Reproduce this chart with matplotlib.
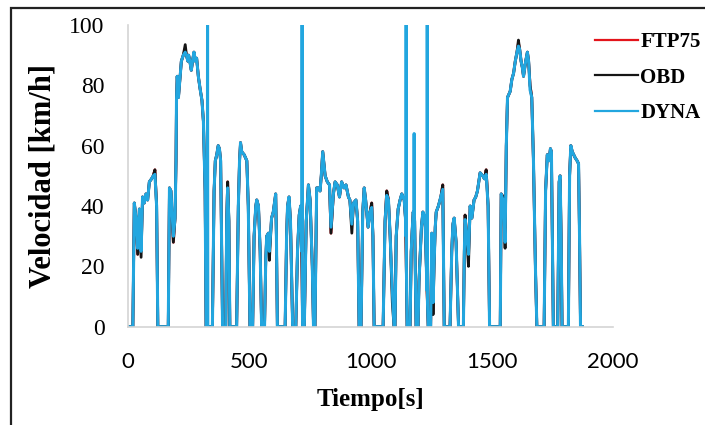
import matplotlib
matplotlib.use("Agg")
import numpy as np
import matplotlib.pyplot as plt
from matplotlib.lines import Line2D
from matplotlib.patches import Rectangle
from matplotlib.font_manager import FontProperties

# FTP75 speed trace, one line per hump (time s / speed km/h)
t_ftp = [0, 20, 26, 33, 40, 47, 54, 60, 67, 74, 81, 88, 97, 104, 111, 118, 123,
         166, 171, 177, 187, 194, 198, 200, 203, 208, 213, 220, 228, 236, 241, 247, 250, 255, 261, 268, 272, 278, 283, 290, 297, 305, 311, 318, 322,
         348, 355, 360, 366, 372, 377, 382, 390,
         403, 407, 411, 416, 420,
         448, 455, 460, 464, 469, 479, 490, 496, 503,
         514, 520, 527, 531, 538, 545, 551,
         563, 568, 572, 579, 583, 592, 599, 609, 612, 616,
         648, 654, 658, 664, 670, 679,
         692, 699, 706, 712, 716, 720,
         727, 735, 744, 751, 760, 765,
         771, 778, 785, 792, 797, 803, 808, 813, 822, 831, 837, 847, 854, 863, 872, 881, 891, 899, 909, 915, 923, 930, 940, 947, 953,
         961, 968, 974, 980, 990, 998, 1005, 1010, 1015,
         1052, 1060, 1067, 1074, 1081, 1090, 1097,
         1101, 1106, 1114, 1122, 1129, 1139, 1145, 1151,
         1163, 1168, 1172, 1176, 1182, 1188,
         1196, 1200, 1205, 1210, 1216, 1221, 1226, 1232, 1238,
         1248, 1253, 1258, 1262, 1267, 1271, 1280, 1290, 1298, 1304,
         1328, 1335, 1340, 1345, 1353, 1363,
         1383, 1387, 1390, 1397, 1404, 1411, 1418, 1427, 1434, 1441, 1452, 1463, 1470, 1477, 1485, 1491,
         1535, 1539, 1548, 1555, 1560, 1565, 1576, 1583, 1590, 1597, 1604, 1610, 1615, 1621, 1626, 1631, 1640, 1647, 1652, 1658, 1665, 1672, 1680, 1686,
         1716, 1722, 1729, 1736, 1742, 1746, 1750, 1754,
         1772, 1778, 1782, 1786, 1790,
         1816, 1821, 1826, 1832, 1838, 1844, 1852, 1858, 1862, 1866, 1874]
v_ftp = [0, 0, 41, 36, 24, 39, 25, 43, 41, 44, 42, 48, 49, 50, 52, 40, 0,
         0, 46, 45, 28, 36, 55, 75, 83, 76, 81, 88, 90, 92, 90, 88, 90, 88, 85, 89, 91, 88, 89, 83, 79, 75, 68, 45, 0,
         0, 45, 55, 57, 60, 59, 55, 0,
         0, 35, 48, 35, 0,
         0, 40, 55, 61, 58, 57, 55, 40, 0,
         0, 30, 40, 42, 40, 25, 0,
         0, 22, 30, 31, 25, 36, 38, 44, 30, 0,
         0, 30, 40, 43, 35, 0,
         0, 25, 37, 40, 30, 0,
         0, 35, 47, 42, 20, 0,
         0, 46, 46, 45, 50, 58, 54, 50, 48, 47, 31, 44, 48, 47, 43, 48, 46, 47, 43, 42, 34, 41, 42, 35, 0,
         0, 38, 46, 42, 33, 38, 41, 30, 0,
         0, 35, 45, 42, 30, 12, 0,
         0, 30, 39, 42, 44, 42, 35, 0,
         0, 25, 32, 38, 35, 0,
         0, 15, 24, 33, 38, 37, 33, 15, 0,
         0, 31, 8, 20, 33, 38, 40, 43, 47, 0,
         0, 25, 34, 36, 28, 0,
         0, 25, 37, 30, 24, 40, 36, 42, 43, 45, 51, 50, 49, 52, 40, 0,
         0, 44, 43, 28, 60, 76, 78, 82, 84, 88, 91, 94, 92, 88, 86, 83, 88, 91, 88, 80, 76, 55, 20, 0,
         0, 45, 57, 55, 59, 58, 30, 0,
         0, 48, 50, 30, 0,
         0, 50, 60, 58, 57, 56, 55, 54, 30, 0, 0]

# points where the OBD trace departs from FTP75
obd_t = [54, 236, 583, 923, 1090, 1258, 1404, 1555, 1610]
obd_v = [23, 93.5, 22, 31, 8, 4, 20, 26, 95]

# points where the dyno trace departs from FTP75 (incl. the spikes)
dyna_t = [40, 111, 187, 236, 411, 837, 1005, 1067, 1298, 1390, 1477, 1548, 1610, 1658,
          327, 328, 329, 717, 718, 719, 1146, 1147, 1148, 1179, 1180, 1181, 1233, 1234, 1235]
dyna_v = [26, 50.5, 30, 91, 46, 33, 39.5, 43.5, 45.5, 35.5, 50.5, 41.5, 93, 78.5,
          0, 100, 0, 25, 100, 10, 30, 100, 20, 37, 64, 36, 12, 100, 8]

assert len(t_ftp) == len(v_ftp)


def merge(t, v, fix_t, fix_v):
    d = dict(zip(t, v))
    d.update(zip(fix_t, fix_v))
    keys = sorted(d)
    return np.array(keys), np.array([d[k] for k in keys])


t_obd, v_obd = merge(t_ftp, v_ftp, obd_t, obd_v)
t_dyna, v_dyna = merge(t_ftp, v_ftp, dyna_t, dyna_v)

c_red, c_blk, c_blue = "#e3141b", "#151515", "#22a6df"
serif = "Liberation Serif"
plt.rcParams["font.family"] = serif

fig = plt.figure(figsize=(7.05, 4.25), dpi=100)
ax = fig.add_axes([128 / 705, 1 - 326.7 / 425, 485 / 705, 301.7 / 425])

ax.plot(t_ftp, v_ftp, color=c_red, lw=2.0, solid_joinstyle="round")
ax.plot(t_obd, v_obd, color=c_blk, lw=2.0, solid_joinstyle="round")
ax.plot(t_dyna, v_dyna, color=c_blue, lw=2.2, solid_joinstyle="round")

ax.set_xlim(0, 2000)
ax.set_ylim(0, 100)
ax.set_xticks([0, 500, 1000, 1500, 2000])
ax.set_yticks([0, 20, 40, 60, 80, 100])
ax.set_yticklabels(["0", "20", "40", "60", "80", "100"],
                   fontproperties=FontProperties(family=serif, size=17))
ax.set_xticklabels(["0", "500", "1000", "1500", "2000"],
                   fontproperties=FontProperties(family="Lato", size=16))
ax.tick_params(length=0)
ax.tick_params(axis="y", pad=17)
ax.tick_params(axis="x", pad=18)
for s in ["top", "right"]:
    ax.spines[s].set_visible(False)
for s in ["left", "bottom"]:
    ax.spines[s].set_color("#d4d4d4")
    ax.spines[s].set_linewidth(1.2)

ax.set_xlabel("Tiempo[s]", fontfamily=serif, fontweight="bold", fontsize=18, labelpad=12)
ax.set_ylabel("Velocidad [km/h]", fontfamily=serif, fontweight="bold", fontsize=22, labelpad=8)

handles = [Line2D([], [], color=c, lw=1.6) for c in (c_red, c_blk, c_blue)]
ax.legend(handles, ["FTP75", "OBD", "DYNA"], loc="upper left",
          bbox_to_anchor=(595 / 705, 1 - 32 / 425), bbox_transform=fig.transFigure,
          frameon=False, borderpad=0, borderaxespad=0, handlelength=2.05,
          handletextpad=0.12, labelspacing=0.75,
          prop=dict(family=serif, weight="bold", size=15))

fig.patches.append(Rectangle((11 / 705, -0.1), 1.2, 1 - 8 / 425 + 0.1,
                             transform=fig.transFigure, fill=False,
                             ec="#222222", lw=1.6))

fig.savefig("out.png", dpi=100)
